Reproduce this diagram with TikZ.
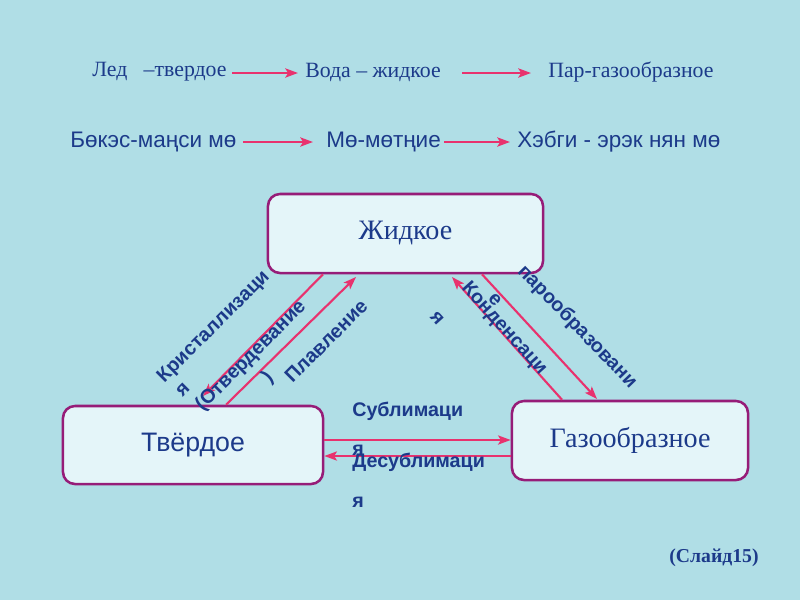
\documentclass[tikz,border=0pt]{standalone}
\usepackage{fontspec}
\setmainfont{Liberation Serif}
\setsansfont{Liberation Sans}
\usetikzlibrary{arrows.meta}
\definecolor{bgc}{RGB}{176,222,230}
\definecolor{boxfill}{RGB}{228,245,249}
\definecolor{boxline}{RGB}{150,28,120}
\definecolor{arrc}{RGB}{232,50,110}
\definecolor{txtc}{RGB}{28,58,138}
\tikzset{
  state/.style={draw=boxline, line width=1.8pt, fill=boxfill, rounded corners=0.3cm, inner sep=0, text=txtc},
  arr/.style={draw=arrc, line width=1.5pt, -{Stealth[length=9pt,width=6.5pt,inset=2pt]}},
  toparr/.style={arr, line width=2pt},
  toptext/.style={anchor=west, inner sep=0, text=txtc},
  lab/.style={inner sep=0, text=txtc, font=\sffamily\bfseries\fontsize{14}{16}\selectfont}
}
\begin{document}
\begin{tikzpicture}[x=0.025cm, y=-0.025cm]
\fill[bgc] (0,0) rectangle (800,600);
\useasboundingbox (0,0) rectangle (800,600);

% top rows
\node[toptext, font=\rmfamily\fontsize{15.5}{17}\selectfont] (t1) at (92,72) {Лед\ \ \ –твердое};
\node[toptext, font=\rmfamily\fontsize{15.5}{17}\selectfont] (t2) at (305,72) {Вода – жидкое};
\node[toptext, font=\rmfamily\fontsize{15.5}{17}\selectfont] (t3) at (548,72) {Пар-газообразное};
\node[toptext, font=\sffamily\fontsize{16}{18}\selectfont] (b1) at (70,142) {Бөкэс-маңси мө};
\node[toptext, font=\sffamily\fontsize{16}{18}\selectfont] (b2) at (326,142) {Мө-мөтңие};
\node[toptext, font=\sffamily\fontsize{16}{18}\selectfont] (b3) at (517,142) {Хэбги - эрэк нян мө};

\coordinate (a1s) at (232,73); \coordinate (a1e) at (298,73);
\coordinate (a2s) at (462,73); \coordinate (a2e) at (531,73);
\coordinate (a3s) at (243,142); \coordinate (a3e) at (313,142);
\coordinate (a4s) at (444,142); \coordinate (a4e) at (510,142);
\draw[toparr] (a1s) -- (a1e);
\draw[toparr] (a2s) -- (a2e);
\draw[toparr] (a3s) -- (a3e);
\draw[toparr] (a4s) -- (a4e);

% state boxes
\node[state, minimum width=6.875cm, minimum height=1.975cm, font=\rmfamily\fontsize{20}{23}\selectfont] (zh) at (405.5,233.5) {Жидкое};
\node[state, minimum width=6.5cm, minimum height=1.95cm, font=\sffamily\fontsize{19}{22}\selectfont] (tv) at (193,445) {Твёрдое};
\node[state, minimum width=5.9cm, minimum height=1.975cm, font=\rmfamily\fontsize{20}{23}\selectfont] (gz) at (630,440.5) {Газообразное};

% connector end points on the boxes
\coordinate (kS) at (zh.south -| 323,0);
\coordinate (kE) at (203,396);
\coordinate (pS) at (tv.north -| 226,0);
\coordinate (pE) at (356,277);
\coordinate (cS) at (gz.north -| 562,0);
\coordinate (cE) at (452,277);
\coordinate (vS) at (zh.south -| 482,0);
\coordinate (vE) at (597,399);
\coordinate (sS) at (tv.east |- 0,440);
\coordinate (sE) at (gz.west |- 0,440);
\coordinate (dS) at (gz.west |- 0,456);
\coordinate (dE) at (tv.east |- 0,456);

\draw[arr] (kS) -- (kE);
\draw[arr] (pS) -- (pE);
\draw[arr] (cS) -- (cE);
\draw[arr] (vS) -- (vE);
\draw[arr] (sS) -- (sE);
\draw[arr] (dS) -- (dE);

% labels
\node[lab, rotate=45] (l1) at (214,327) {Кристаллизаци};
\node[lab, rotate=45] (l1b) at (183,390) {я};
\node[lab, rotate=45] (l2) at (251,356) {(Отвердевание};
\node[lab, rotate=45] (l2b) at (268,378) {)};
\node[lab, rotate=45] (l3) at (326,341) {Плавление};
\node[lab, rotate=-48] (l4) at (504,329) {Конденсаци};
\node[lab, rotate=-48] (l4b) at (437,318) {я};
\node[lab, rotate=-46] (l5) at (577,327) {парообразовани};
\node[lab, rotate=-46] (l5b) at (495,300) {е};
\node[lab, anchor=west] (l6) at (352,411) {Сублимаци};
\node[lab, anchor=west] (l6b) at (352,450) {я};
\node[lab, anchor=west] (l7) at (352,462) {Десублимаци};
\node[lab, anchor=west] (l7b) at (352,502) {я};

\node[inner sep=0, text=txtc, font=\rmfamily\bfseries\fontsize{14}{16}\selectfont] (sl) at (714,558) {(Слайд15)};
\end{tikzpicture}
\end{document}
